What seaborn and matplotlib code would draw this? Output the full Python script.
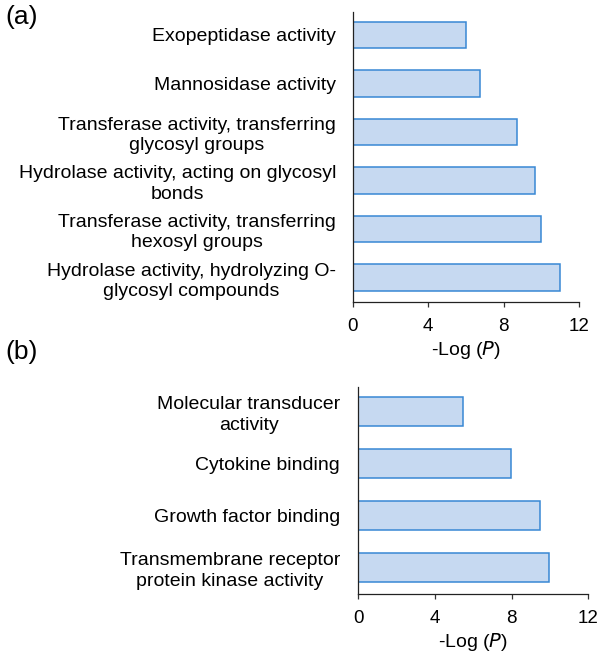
import matplotlib
matplotlib.use("Agg")
import matplotlib.pyplot as plt
import seaborn as sns
import pandas as pd

sns.set_theme(style="ticks")
plt.rcParams['font.family'] = ['Liberation Sans', 'DejaVu Sans']
plt.rcParams['text.color'] = 'black'
plt.rcParams['axes.labelcolor'] = 'black'
plt.rcParams['xtick.color'] = 'black'
plt.rcParams['ytick.color'] = 'black'

cats_a = [
    "Exopeptidase activity",
    "Mannosidase activity",
    "Transferase activity, transferring\nglycosyl groups",
    "Hydrolase activity, acting on glycosyl\nbonds",
    "Transferase activity, transferring\nhexosyl groups",
    "Hydrolase activity, hydrolyzing O-\nglycosyl compounds",
]
vals_a = [6.0, 6.72, 8.71, 9.68, 9.95, 11.0]

cats_b = [
    "Molecular transducer\nactivity",
    "Cytokine binding",
    "Growth factor binding",
    "Transmembrane receptor\nprotein kinase activity",
]
vals_b = [5.45, 7.97, 9.49, 9.93]

xticks = [0, 4, 8, 12]

FILL = "#c6d9f1"
EDGE = "#3888d4"

W, H = 604, 659
fig = plt.figure(figsize=(W / 100, H / 100), dpi=100)


def px_axes(left, right, top, bottom):
    return fig.add_axes([left / W, 1 - bottom / H, (right - left) / W, (bottom - top) / H])


ax_a = px_axes(352.7, 579.3, 12, 302)
ax_b = px_axes(358.3, 588.3, 386.7, 594)


def draw(ax, cats, vals, width, ylim, ypad):
    df = pd.DataFrame({"term": cats, "val": vals})
    sns.barplot(data=df, x="val", y="term", orient="h", ax=ax, color=FILL,
                edgecolor=EDGE, linewidth=1.1, width=width, saturation=1)
    ax.set_ylim(*ylim)
    ax.set_xlim(0, 12)
    ax.set_xticks(xticks)
    ax.set_xticklabels([str(t) for t in xticks], fontsize=13.5)
    ax.set_ylabel("")
    ax.set_xlabel("-Log ($\\it{P}$)", fontsize=14, labelpad=3)
    for lab in ax.get_yticklabels():
        lab.set_fontsize(14)
        lab.set_multialignment("center")
        lab.set_linespacing(1.25)
    ax.tick_params(axis="y", length=0, pad=ypad)
    ax.tick_params(axis="x", length=3.6, width=0.9, color="#333333", pad=8)
    for s in ["top", "right"]:
        ax.spines[s].set_visible(False)
    for s in ["left", "bottom"]:
        ax.spines[s].set_linewidth(0.9)
        ax.spines[s].set_color("#222222")


draw(ax_a, cats_a, vals_a, 0.55, (5.505, -0.474), 12)
draw(ax_b, cats_b, vals_b, 0.56, (3.51, -0.473), 13)

fig.text(5 / W, 1 - 17 / H, "(a)", fontsize=19, va="center", ha="left")
fig.text(5 / W, 1 - 352 / H, "(b)", fontsize=19, va="center", ha="left")

fig.savefig("out.png", dpi=100)
